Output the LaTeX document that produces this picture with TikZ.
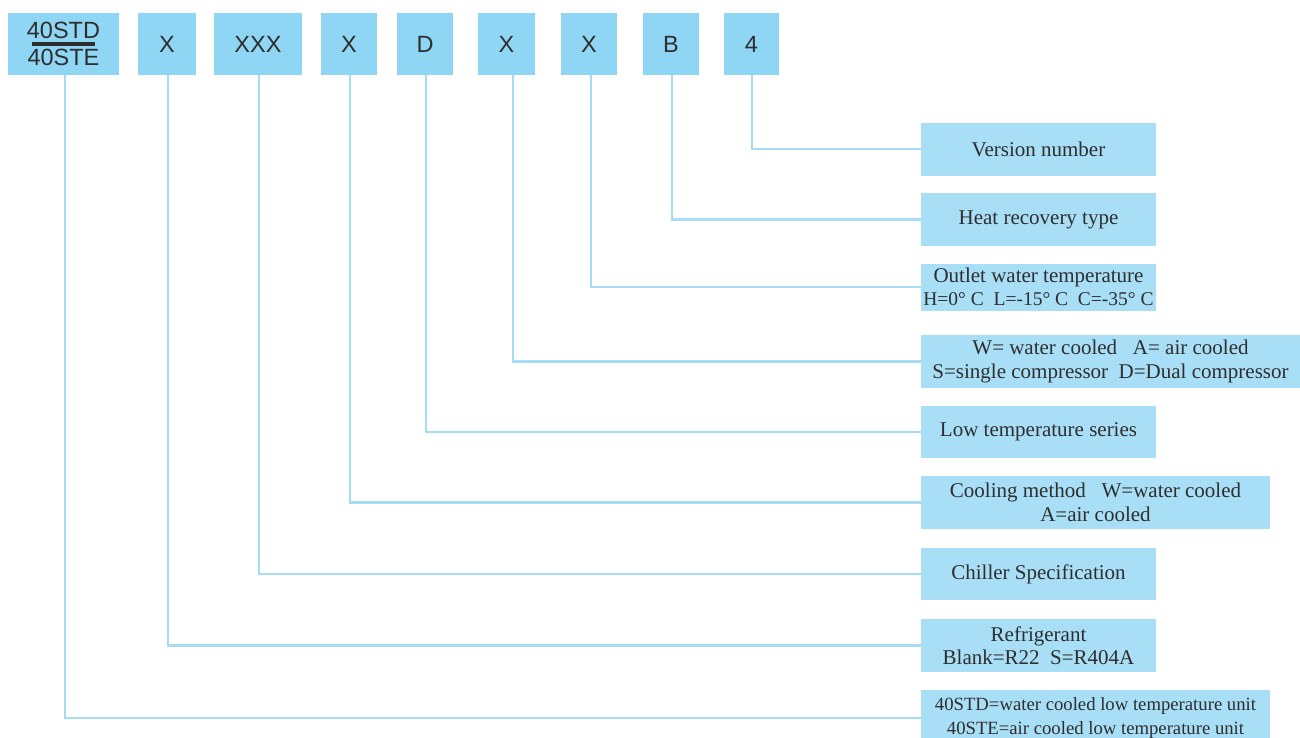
\documentclass[tikz,border=0pt]{standalone}
\usepackage{fontspec}
\setmainfont{Liberation Serif}
\newfontfamily\arialfont{Liberation Sans}
\definecolor{topfill}{HTML}{8FD6F5}
\definecolor{rightfill}{HTML}{A8DEF6}
\definecolor{linecol}{HTML}{A6DCF6}
\definecolor{txt}{HTML}{2E2E2E}
\tikzset{
  topbox/.style={fill=topfill, draw=none, inner sep=0pt, minimum height=62pt, text=txt, font=\arialfont\fontsize{23.5}{27}\selectfont},
  rightbox/.style={fill=rightfill, draw=none, inner sep=0pt, text=txt, align=center, font=\fontsize{21}{23.5}\selectfont},
  conn/.style={draw=linecol, line width=2.8pt}
}
\begin{document}
\begin{tikzpicture}[x=1pt,y=-1pt]
\useasboundingbox (0,0) rectangle (1300,737);
% top code boxes
\node[topbox, minimum width=111pt] (t1) at (63.5,44) {\vbox{\offinterlineskip
  \hbox to 80pt{\hss 40STD\hss}\kern3.5pt
  \hbox to 80pt{\hss\rule{63pt}{3.5pt}\hss}\kern3.5pt
  \hbox to 80pt{\hss 40STE\hss}}};
\node[topbox, minimum width=58pt] (t2) at (167,44) {X};
\node[topbox, minimum width=88pt] (t3) at (258,44) {XXX};
\node[topbox, minimum width=56pt] (t4) at (349,44) {X};
\node[topbox, minimum width=56pt] (t5) at (425,44) {D};
\node[topbox, minimum width=57pt] (t6) at (506.5,44) {X};
\node[topbox, minimum width=56pt] (t7) at (589,44) {X};
\node[topbox, minimum width=56pt] (t8) at (671,44) {B};
\node[topbox, minimum width=55pt] (t9) at (751.5,44) {4};
% right description boxes
\node[rightbox, minimum width=235pt, minimum height=53pt] (r9) at (1038.5,149) {Version number};
\node[rightbox, minimum width=235pt, minimum height=53pt] (r8) at (1038.5,219.5) {Heat recovery type};
\node[rightbox, minimum width=235pt, minimum height=47pt] (r7) at (1038.5,287) {\makebox[0pt]{Outlet water temperature}\\[-1pt]\makebox[0pt]{\fontsize{19.5}{23}\selectfont H=0° C\ \ L=-15° C\ \ C=-35° C}};
\node[rightbox, minimum width=379pt, minimum height=53pt] (r6) at (1110.5,361.5) {W= water cooled\ \ \ A= air cooled\\S=single compressor\ \ D=Dual compressor};
\node[rightbox, minimum width=235pt, minimum height=52pt] (r5) at (1038.5,432) {Low temperature series};
\node[rightbox, minimum width=349pt, minimum height=53pt] (r4) at (1095.5,502.5) {Cooling method\ \ \ W=water cooled\\A=air cooled};
\node[rightbox, minimum width=235pt, minimum height=52pt] (r3) at (1038.5,574) {Chiller Specification};
\node[rightbox, minimum width=235pt, minimum height=53pt] (r2) at (1038.5,645.5) {Refrigerant\\Blank=R22\ \ S=R404A};
\node[rightbox, minimum width=349pt, minimum height=56pt, font=\fontsize{18.7}{23.5}\selectfont] (r1) at (1095.5,718) {40STD=water cooled low temperature unit\\40STE=air cooled low temperature unit};
% connectors
\draw[conn] ([xshift=1.5pt]t1.south) |- (r1.west);
\draw[conn] ([xshift=1pt]t2.south) |- (r2.west);
\draw[conn] ([xshift=1pt]t3.south) |- (r3.west);
\draw[conn] ([xshift=1pt]t4.south) |- (r4.west);
\draw[conn] ([xshift=1pt]t5.south) |- (r5.west);
\draw[conn] ([xshift=6.5pt]t6.south) |- (r6.west);
\draw[conn] ([xshift=2pt]t7.south) |- (r7.west);
\draw[conn] ([xshift=1pt]t8.south) |- (r8.west);
\draw[conn] ([xshift=0.5pt]t9.south) |- (r9.west);
\end{tikzpicture}
\end{document}
